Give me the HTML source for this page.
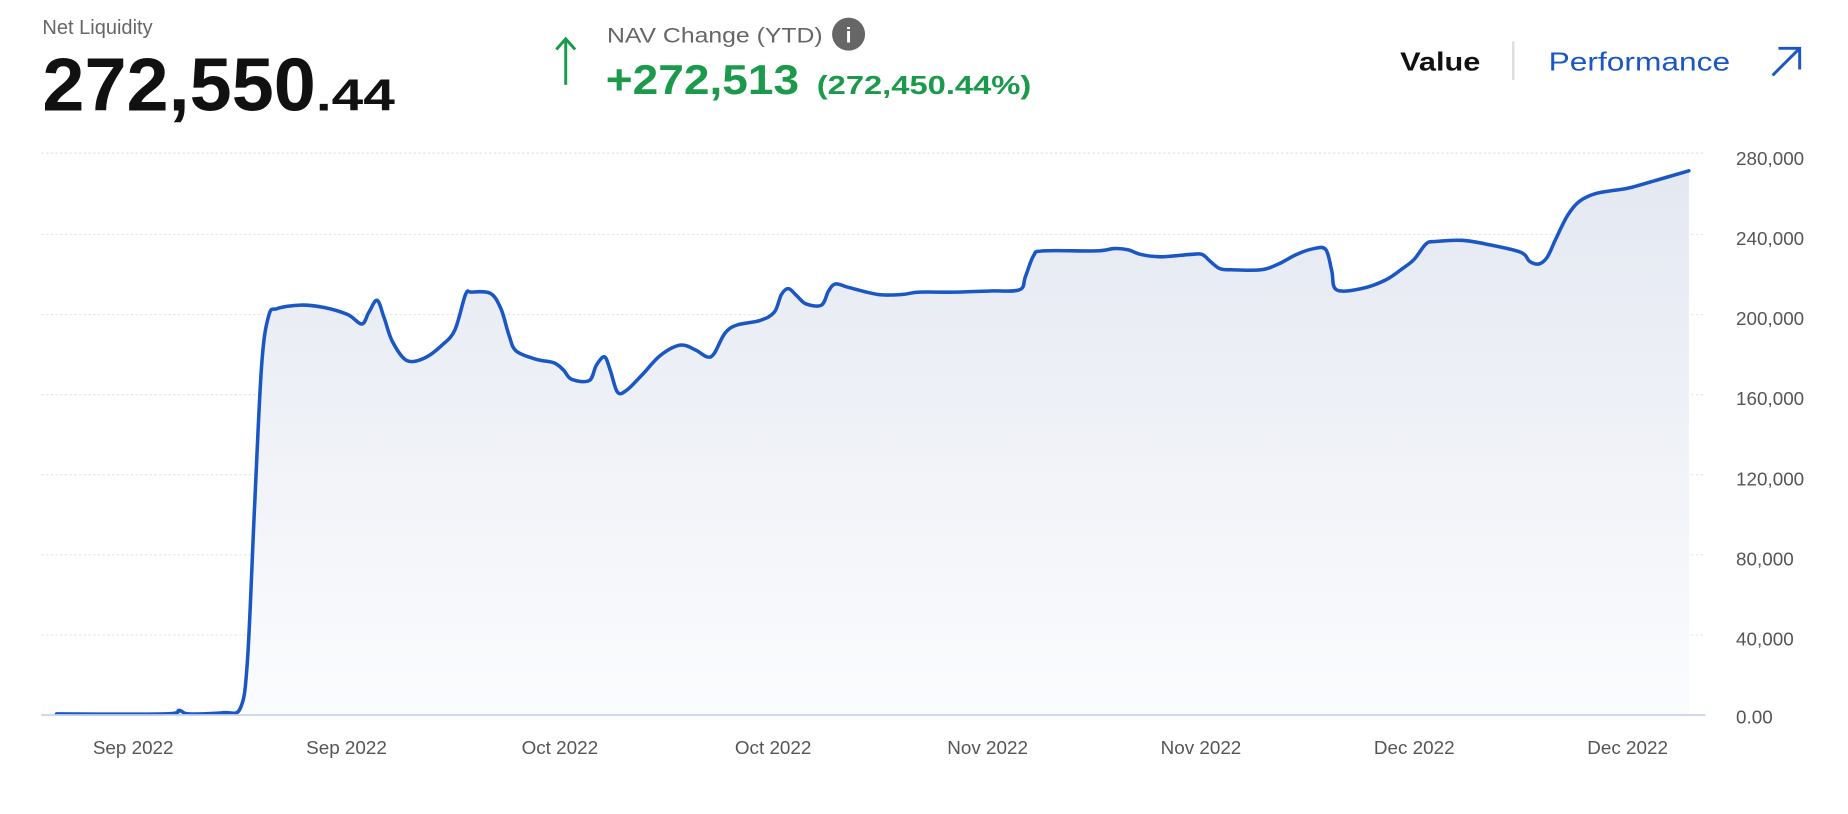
<!DOCTYPE html>
<html><head><meta charset="utf-8"><style>
html,body{margin:0;padding:0;background:#fff;}
svg{display:block;font-family:"Liberation Sans",sans-serif;}
</style></head><body>
<svg width="1848" height="814" viewBox="0 0 1568 691" preserveAspectRatio="none">
<defs><linearGradient id="g" x1="0" y1="0" x2="0" y2="1"><stop offset="0" stop-color="#e4e8f1"/><stop offset="1" stop-color="#fbfcfe"/></linearGradient></defs>
<text x="36" y="29" font-size="17" fill="#666">Net Liquidity</text>
<text x="36" y="94" font-size="64" font-weight="bold" fill="#111" textLength="232" lengthAdjust="spacingAndGlyphs">272,550</text>
<text x="268" y="94" font-size="38" font-weight="bold" fill="#111" textLength="67" lengthAdjust="spacingAndGlyphs">.44</text>
<g stroke="#1a9a4a" stroke-width="2.5" fill="none"><line x1="480" y1="34" x2="480" y2="72"/><polyline points="472,42 480,33 488,42"/></g>
<text x="515" y="36" font-size="18" fill="#666" textLength="183" lengthAdjust="spacingAndGlyphs">NAV Change (YTD)</text>
<circle cx="720" cy="29" r="14" fill="#666"/><text x="720" y="36" font-size="18" font-weight="bold" fill="#fff" text-anchor="middle">i</text>
<text x="514" y="80" font-size="35" font-weight="bold" fill="#1a9a4a" textLength="164" lengthAdjust="spacingAndGlyphs">+272,513</text>
<text x="693" y="80" font-size="22" font-weight="bold" fill="#1a9a4a" textLength="182" lengthAdjust="spacingAndGlyphs">(272,450.44%)</text>
<text x="1188" y="60" font-size="22" font-weight="bold" fill="#111" textLength="68" lengthAdjust="spacingAndGlyphs">Value</text>
<line x1="1284" y1="35" x2="1284" y2="68" stroke="#ddd" stroke-width="2"/>
<text x="1314" y="60" font-size="22" fill="#1a56c4" textLength="154" lengthAdjust="spacingAndGlyphs">Performance</text>
<g stroke="#1a56c4" stroke-width="2.5" fill="none"><line x1="1504" y1="64" x2="1527" y2="41"/><polyline points="1509,41 1527,41 1527,59"/></g>
<g stroke="#e3e6ea" stroke-width="1" stroke-dasharray="2,2">
<line x1="35" y1="130" x2="1447" y2="130"/><line x1="35" y1="199" x2="1447" y2="199"/><line x1="35" y1="267" x2="1447" y2="267"/><line x1="35" y1="335" x2="1447" y2="335"/><line x1="35" y1="403" x2="1447" y2="403"/><line x1="35" y1="471" x2="1447" y2="471"/><line x1="35" y1="539" x2="1447" y2="539"/></g>
<polygon id="area" fill="url(#g)" points="48,606 140,606 152,603 160,606 190,605 204,601 210,560 216,430 222,310 228,268 235,262 255,259 275,261 295,267 307,275 313,265 320,255 326,270 333,290 345,306 360,304 375,293 386,280 395,250 400,248 416,249 425,262 432,285 438,298 455,305 470,308 478,314 485,322 500,323 506,310 513,303 518,315 524,333 532,331 545,318 560,302 577,293 590,297 600,303 606,300 615,283 625,276 645,272 657,265 663,250 669,245 676,251 684,258 697,259 703,247 709,241 720,244 745,250 765,250 780,248 810,248 840,247 865,246 870,235 877,217 885,213 930,213 945,211 957,212 968,216 985,218 1010,216 1020,216 1027,222 1035,228 1045,229 1070,229 1085,224 1100,216 1115,211 1125,212 1130,230 1134,246 1155,245 1175,238 1190,228 1200,220 1210,207 1218,205 1240,204 1260,207 1290,214 1298,222 1306,224 1313,218 1320,203 1330,183 1340,171 1355,164 1380,160 1395,156 1433,145 1433,607 48,607"/>
<polyline id="line" fill="none" stroke="#1a56c4" stroke-width="3" stroke-linejoin="round" stroke-linecap="round" points="48,606 140,606 152,603 160,606 190,605 204,601 210,560 216,430 222,310 228,268 235,262 255,259 275,261 295,267 307,275 313,265 320,255 326,270 333,290 345,306 360,304 375,293 386,280 395,250 400,248 416,249 425,262 432,285 438,298 455,305 470,308 478,314 485,322 500,323 506,310 513,303 518,315 524,333 532,331 545,318 560,302 577,293 590,297 600,303 606,300 615,283 625,276 645,272 657,265 663,250 669,245 676,251 684,258 697,259 703,247 709,241 720,244 745,250 765,250 780,248 810,248 840,247 865,246 870,235 877,217 885,213 930,213 945,211 957,212 968,216 985,218 1010,216 1020,216 1027,222 1035,228 1045,229 1070,229 1085,224 1100,216 1115,211 1125,212 1130,230 1134,246 1155,245 1175,238 1190,228 1200,220 1210,207 1218,205 1240,204 1260,207 1290,214 1298,222 1306,224 1313,218 1320,203 1330,183 1340,171 1355,164 1380,160 1395,156 1433,145"/>
<line x1="35" y1="607" x2="1447" y2="607" stroke="#c7d3e8" stroke-width="1.5"/>
<g font-size="16" fill="#555">
<text x="1473" y="140">280,000</text><text x="1473" y="208">240,000</text><text x="1473" y="276">200,000</text><text x="1473" y="344">160,000</text><text x="1473" y="412">120,000</text><text x="1473" y="480">80,000</text><text x="1473" y="548">40,000</text><text x="1473" y="614">0.00</text>
</g>
<g font-size="16" fill="#555" text-anchor="middle">
<text x="113" y="640">Sep 2022</text><text x="294" y="640">Sep 2022</text><text x="475" y="640">Oct 2022</text><text x="656" y="640">Oct 2022</text><text x="838" y="640">Nov 2022</text><text x="1019" y="640">Nov 2022</text><text x="1200" y="640">Dec 2022</text><text x="1381" y="640">Dec 2022</text>
</g>
</svg>
<script>
(function(){
var pl=document.getElementById('line');
var pts=pl.getAttribute('points').trim().split(/\s+/).map(function(s){return s.split(',').map(Number);});
function seg(){var d='M'+pts[0][0]+','+pts[0][1];
for(var i=0;i<pts.length-1;i++){var p0=pts[i-1]||pts[i],p1=pts[i],p2=pts[i+1],p3=pts[i+2]||p2;var t=0.5/3;
var c1x=p1[0]+(p2[0]-p0[0])*t,c1y=p1[1]+(p2[1]-p0[1])*t,c2x=p2[0]-(p3[0]-p1[0])*t,c2y=p2[1]-(p3[1]-p1[1])*t;
d+=' C'+c1x.toFixed(1)+','+c1y.toFixed(1)+' '+c2x.toFixed(1)+','+c2y.toFixed(1)+' '+p2[0]+','+p2[1];}return d;}
var d=seg();var ns='http://www.w3.org/2000/svg';
var p=document.createElementNS(ns,'path');p.setAttribute('d',d);['fill','stroke','stroke-width','stroke-linejoin','stroke-linecap'].forEach(function(a){p.setAttribute(a,pl.getAttribute(a));});
pl.parentNode.replaceChild(p,pl);
var ar=document.getElementById('area');var a=document.createElementNS(ns,'path');a.setAttribute('d',d+' L1433,607 L48,607 Z');a.setAttribute('fill','url(#g)');ar.parentNode.replaceChild(a,ar);
})();
</script>
</body></html>
